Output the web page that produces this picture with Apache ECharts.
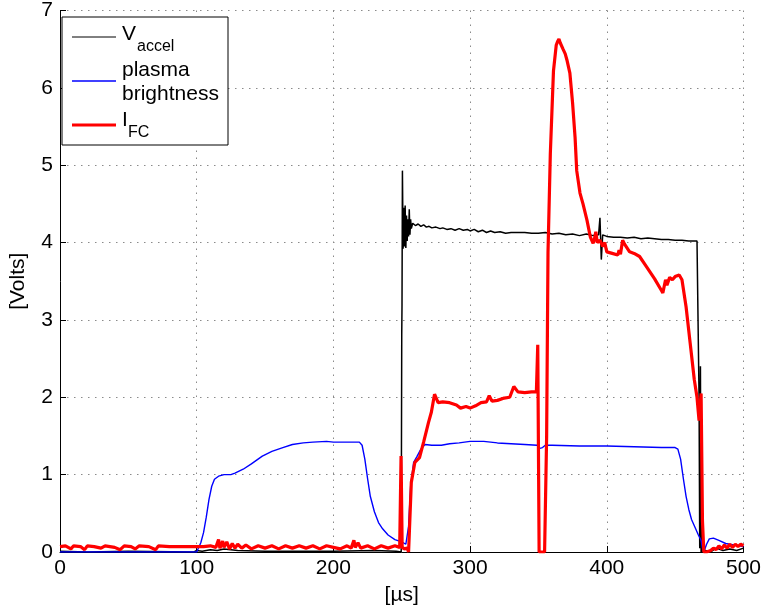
<!DOCTYPE html>
<html>
<head>
<meta charset="utf-8">
<script src="https://cdn.jsdelivr.net/npm/echarts@6/dist/echarts.min.js"></script>
<style>
  html, body { margin: 0; padding: 0; background: #fff; }
  #chart { width: 764px; height: 611px; }
</style>
</head>
<body>
<div id="chart"></div>
<script>
// Time axis in microseconds, voltage axis in volts
const xTicks = [0, 100, 200, 300, 400, 500];
const yTicks = [0, 1, 2, 3, 4, 5, 6, 7];

// Accelerating voltage [t (µs), V]
const vAccel = [
  [0, 0.01], [20, 0.0], [50, 0.01], [98, 0.0], [100, 0.02], [104, 0.01], [110, 0.03],
  [115, 0.02], [120, 0.04], [130, 0.02], [150, 0.01], [200, 0.01], [230, 0.02],
  [246, 0.01], [249.6, 0.0], [250, 2.8], [250.2, 3.2], [250.5, 4.93], [251, 3.92],
  [251.5, 4.45], [252, 3.95], [252.5, 4.48], [253, 3.93],
  [253.5, 4.35], [254, 4.02], [254.5, 4.3], [255, 4.08], [255.5, 4.43], [256, 4.1],
  [256.5, 4.3], [257, 4.18], [258, 4.25], [260, 4.22], [262, 4.24], [264, 4.21],
  [266, 4.23], [268, 4.2], [270, 4.21], [272, 4.19], [275, 4.2], [278, 4.18],
  [280, 4.19], [283, 4.17], [286, 4.18], [289, 4.16], [292, 4.18], [295, 4.16],
  [298, 4.17], [300, 4.15], [303, 4.17], [306, 4.14], [309, 4.16], [312, 4.13],
  [315, 4.15], [318, 4.13], [322, 4.14], [326, 4.12], [330, 4.13], [335, 4.13],
  [340, 4.13], [345, 4.12], [350, 4.12], [355, 4.13], [360, 4.11], [365, 4.12],
  [370, 4.1], [375, 4.11], [380, 4.09], [385, 4.11], [390, 4.09], [394, 4.1],
  [395, 4.32], [396, 3.78], [397, 4.1], [400, 4.08], [405, 4.07], [410, 4.07],
  [415, 4.06], [420, 4.07], [425, 4.05], [430, 4.06], [435, 4.05], [440, 4.04],
  [445, 4.04], [450, 4.03], [455, 4.03], [460, 4.02], [466, 4.02], [467, 4.0],
  [467.5, 2.0], [468, 0.05], [468.5, 2.4], [469, 0.0], [469.5, 1.3], [470, 0.0],
  [472, 0.02], [476, 0.0], [480, 0.05], [485, 0.02], [490, 0.04], [495, 0.02], [500, 0.05]
];

// Plasma brightness (photodiode) [t (µs), V]
const brightness = [
  [0, 0.0], [100, 0.0], [101, 0.02], [103, 0.12], [105, 0.25], [107, 0.45], [109, 0.68],
  [111, 0.85], [113, 0.94], [116, 0.98], [120, 1.0], [125, 1.0], [128, 1.02],
  [134, 1.07], [140, 1.14], [148, 1.24], [155, 1.3], [163, 1.35], [170, 1.39],
  [178, 1.41], [185, 1.42], [195, 1.43], [200, 1.42], [210, 1.42], [219, 1.42],
  [221, 1.38], [223, 1.2], [225, 0.95], [227, 0.72], [230, 0.52], [233, 0.38],
  [236, 0.3], [240, 0.22], [245, 0.16], [250, 0.13], [253, 0.1], [255, 0.33],
  [256.5, 0.85], [258.7, 1.16], [261, 1.23], [264, 1.33], [267, 1.39], [272, 1.38],
  [279, 1.38], [285, 1.4], [292, 1.41], [300, 1.43], [310, 1.43], [320, 1.41],
  [330, 1.4], [340, 1.39], [349, 1.38], [351, 1.34], [353, 1.35], [355, 1.38],
  [360, 1.38], [380, 1.37], [400, 1.37], [420, 1.36], [440, 1.35], [450, 1.35],
  [452, 1.33], [454, 1.2], [456, 0.95], [458, 0.72], [460, 0.55], [462, 0.42],
  [465, 0.3], [467, 0.22], [469, 0.15], [470, 0.05], [471, 0.0], [473, 0.1],
  [475, 0.17], [478, 0.18], [482, 0.15], [487, 0.11], [493, 0.09], [500, 0.07]
];

// Faraday cup current [t (µs), V]
const iFC = [
  [0, 0.07], [4, 0.08], [8, 0.04], [10, 0.08], [15, 0.07], [18, 0.03], [20, 0.08],
  [25, 0.07], [30, 0.05], [33, 0.08], [40, 0.06], [44, 0.03], [47, 0.08], [52, 0.07],
  [55, 0.04], [58, 0.08], [65, 0.07], [70, 0.03], [72, 0.08], [80, 0.07], [88, 0.07],
  [95, 0.07], [100, 0.07], [105, 0.07], [110, 0.08], [114, 0.06], [116, 0.16],
  [117, 0.05], [119, 0.14], [120, 0.06], [122, 0.13], [124, 0.04], [126, 0.11],
  [128, 0.05], [130, 0.1], [133, 0.05], [136, 0.09], [140, 0.04], [145, 0.08],
  [150, 0.05], [155, 0.08], [160, 0.04], [165, 0.08], [170, 0.05], [175, 0.08],
  [180, 0.05], [185, 0.08], [190, 0.04], [195, 0.08], [200, 0.06], [205, 0.04],
  [210, 0.08], [213, 0.05], [215, 0.15], [216, 0.06], [218, 0.12], [220, 0.05],
  [225, 0.08], [230, 0.04], [235, 0.08], [240, 0.05], [245, 0.08], [248.5, 0.06],
  [249.5, 1.24], [250.3, 0.06], [252, 0.04], [254, 0.05], [255, 0.0], [257, 0.9],
  [259.6, 1.16], [263, 1.22], [266, 1.42], [269.5, 1.67], [271.7, 1.81], [274, 2.04],
  [276.6, 1.93], [280, 1.94], [285, 1.93], [290, 1.9], [293, 1.86], [297, 1.88],
  [300, 1.86], [304, 1.89], [308, 1.93], [312, 1.94], [314, 2.02], [316, 1.95],
  [320, 1.96], [325, 1.99], [329, 2.0], [332, 2.14], [335, 2.07], [340, 2.06],
  [345, 2.07], [348.5, 2.07], [349.5, 2.68], [350.5, 0.0], [354.5, 0.0], [356, 1.5],
  [357, 3.87], [358.7, 5.15], [361, 6.22], [363, 6.55], [364, 6.6], [365, 6.63],
  [366, 6.58], [368, 6.5], [369.6, 6.44], [371, 6.35], [373, 6.19], [375, 5.8],
  [376.8, 5.36], [378, 4.93], [380.4, 4.64], [382.6, 4.5], [385.5, 4.29], [388, 4.07],
  [390, 3.99], [391, 4.05], [392, 4.14], [393, 4.0], [395, 4.03], [397, 3.95],
  [398.5, 4.0], [400, 3.88], [404, 3.86], [408, 3.84], [409, 3.9], [410, 3.85],
  [411.6, 4.03], [413, 3.98], [416.7, 3.88], [420, 3.86], [424, 3.82], [429, 3.69],
  [435, 3.53], [440, 3.38], [441, 3.35], [443, 3.52], [444, 3.45], [446, 3.55],
  [448, 3.52], [450, 3.56], [453, 3.58], [455, 3.52], [458, 3.17], [461, 2.7],
  [464, 2.23], [466, 2.0], [467.5, 1.7], [469, 2.05], [470, 0.4], [471, 0.0],
  [473, 0.0], [476, 0.02], [478, 0.05], [480, 0.03], [482, 0.08], [484, 0.04],
  [486, 0.09], [488, 0.05], [490, 0.1], [492, 0.06], [494, 0.1], [496, 0.07],
  [498, 0.1], [500, 0.08]
];

const FONT = '"Liberation Sans", Arial, Helvetica, sans-serif';
const chart = echarts.init(document.getElementById('chart'), null, { renderer: 'canvas' });

const gridLine = { show: true, lineStyle: { color: '#8a8a8a', width: 1, type: [1.5, 5.5] } };

// Legend drawn as a boxed key with subscripted labels
const legendX = 62, legendY = 17;
function keyLine(y, color, w) {
  return { type: 'line', shape: { x1: legendX + 10, y1: y, x2: legendX + 54, y2: y },
           style: { stroke: color, lineWidth: w }, z: 101 };
}
function keyText(x, y, text, size) {
  return { type: 'text', x: x, y: y, z: 101,
           style: { text: text, font: size + 'px ' + FONT, fill: '#000',
                    textAlign: 'left', textVerticalAlign: 'middle' } };
}

chart.setOption({
  animation: false,
  grid: { left: 55, right: 19, top: 10, bottom: 58, containLabel: false },
  xAxis: {
    type: 'value', min: 0, max: 500, interval: 100,
    name: '[µs]', nameLocation: 'middle', nameGap: 33,
    nameTextStyle: { fontFamily: FONT, fontSize: 21, color: '#000' },
    axisLine: { show: true, onZero: false, lineStyle: { color: '#000', width: 1 } },
    axisTick: { show: true, inside: true, length: 6, lineStyle: { color: '#000' } },
    axisLabel: { fontFamily: FONT, fontSize: 21, color: '#000', margin: 6,
                 formatter: v => xTicks.includes(v) ? String(v) : '' },
    splitLine: gridLine
  },
  yAxis: {
    type: 'value', min: 0, max: 7, interval: 1,
    name: '[Volts]', nameLocation: 'middle', nameGap: 31, nameRotate: 90,
    nameTextStyle: { fontFamily: FONT, fontSize: 21, color: '#000' },
    axisLine: { show: true, onZero: false, lineStyle: { color: '#000', width: 1 } },
    axisTick: { show: true, inside: true, length: 6, lineStyle: { color: '#000' } },
    axisLabel: { fontFamily: FONT, fontSize: 21, color: '#000', margin: 7,
                 formatter: v => yTicks.includes(v) ? String(v) : '' },
    splitLine: gridLine
  },
  series: [
    { name: 'V_accel', type: 'line', data: vAccel, showSymbol: false,
      lineStyle: { color: '#000', width: 1.5 }, z: 2 },
    { name: 'plasma brightness', type: 'line', data: brightness, showSymbol: false,
      lineStyle: { color: '#0000ff', width: 1.4 }, z: 3 },
    { name: 'I_FC', type: 'line', data: iFC, showSymbol: false,
      lineStyle: { color: '#ff0000', width: 3.2 }, z: 4 }
  ],
  graphic: [
    { type: 'rect', shape: { x: legendX, y: legendY, width: 166, height: 128 },
      style: { fill: '#fff', stroke: '#000', lineWidth: 1 }, z: 100 },
    keyLine(37, '#000', 1), keyLine(81, '#0000ff', 1.3), keyLine(125, '#ff0000', 3),
    keyText(122, 34, 'V', 21), keyText(137, 47, 'accel', 16),
    keyText(122, 70, 'plasma', 21), keyText(122, 94, 'brightness', 21),
    keyText(122, 120, 'I', 21), keyText(128, 133, 'FC', 16)
  ]
});
</script>
</body>
</html>
